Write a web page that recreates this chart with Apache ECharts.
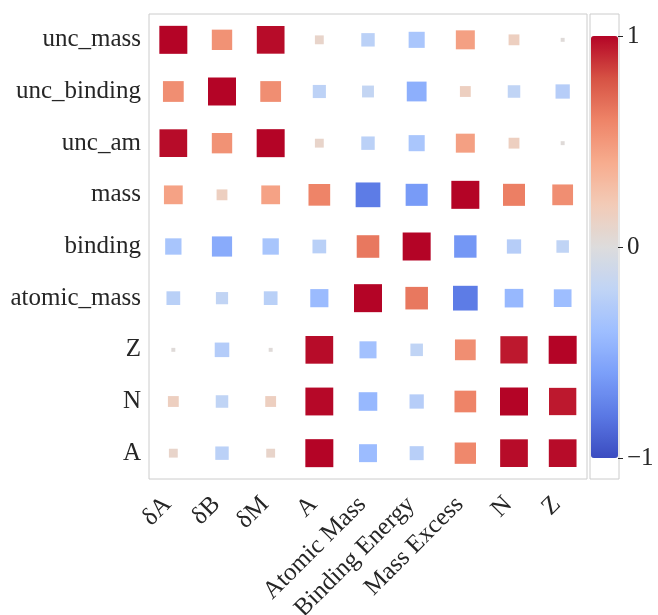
<!DOCTYPE html>
<html><head><meta charset="utf-8">
<script src="https://cdn.jsdelivr.net/npm/echarts@6/dist/echarts.min.js"></script>
<style>html,body{margin:0;padding:0;background:#fff}#c{width:658px;height:615px}</style>
</head><body><div id="c"></div>
<script>
const columns = ['\u03b4A', '\u03b4B', '\u03b4M', 'A', 'Atomic Mass', 'Binding Energy', 'Mass Excess', 'N', 'Z'];
const rows = ['unc_mass', 'unc_binding', 'unc_am', 'mass', 'binding', 'atomic_mass', 'Z', 'N', 'A'];
const r_unc_mass    = [1.00, 0.53, 0.98, 0.10, -0.23, -0.33, 0.46, 0.15, 0.02];
const r_unc_binding = [0.55, 1.00, 0.55, -0.22, -0.18, -0.50, 0.15, -0.20, -0.26];
const r_unc_am      = [0.98, 0.53, 1.00, 0.10, -0.23, -0.33, 0.46, 0.15, 0.02];
const r_mass        = [0.45, 0.15, 0.45, 0.60, -0.78, -0.62, 1.00, 0.62, 0.55];
const r_binding     = [-0.34, -0.52, -0.34, -0.24, 0.65, 1.00, -0.64, -0.26, -0.20];
const r_atomic_mass = [-0.24, -0.19, -0.24, -0.42, 1.00, 0.65, -0.78, -0.44, -0.40];
const r_Z           = [0.02, -0.27, 0.02, 0.98, -0.37, -0.20, 0.55, 0.95, 1.00];
const r_N           = [0.15, -0.20, 0.15, 0.99, -0.44, -0.26, 0.60, 1.00, 0.95];
const r_A           = [0.10, -0.23, 0.10, 1.00, -0.41, -0.25, 0.58, 0.98, 0.98];
const matrix = [r_unc_mass, r_unc_binding, r_unc_am, r_mass, r_binding, r_atomic_mass, r_Z, r_N, r_A];
const colorbarTicks = [-1, 0, 1];

const coolwarm = ['#3b4cc0','#5a78e4','#7b9ff9','#9ebeff','#c0d4f5','#dddcdc','#f2cbb7','#f7ac8e','#ee8468','#d65244','#b40426'];

const data = [];
matrix.forEach((row, ri) => row.forEach((v, ci) => data.push([ci, ri, v])));

const FONT = 'Liberation Serif';
const chart = echarts.init(document.getElementById('c'));
chart.setOption({
  animation: false,
  grid: [
    {left: 149, top: 14, width: 438, height: 465, show: true, borderColor: '#cccccc', borderWidth: 1, backgroundColor: 'transparent', outerBoundsMode: 'none', containLabel: false},
    {left: 590, top: 14, width: 29, height: 465, show: true, borderColor: '#cccccc', borderWidth: 1, backgroundColor: 'transparent', outerBoundsMode: 'none', containLabel: false},
    {left: 591, top: 36, width: 27, height: 422, show: false, outerBoundsMode: 'none', containLabel: false}
  ],
  xAxis: [
    {gridIndex: 0, type: 'category', data: columns, boundaryGap: true,
     axisLine: {show: false}, axisTick: {show: false}, splitLine: {show: false},
     axisLabel: {rotate: 45, margin: 16, padding: [0, 8, 0, 0], fontFamily: FONT, fontSize: 25, color: '#262626', interval: 0}},
    {gridIndex: 1, type: 'value', show: false},
    {gridIndex: 2, type: 'value', show: false, min: 0, max: 1}
  ],
  yAxis: [
    {gridIndex: 0, type: 'category', data: rows, inverse: true, boundaryGap: true,
     axisLine: {show: false}, axisTick: {show: false}, splitLine: {show: false},
     axisLabel: {margin: 8, fontFamily: FONT, fontSize: 25, color: '#262626', interval: 0}},
    {gridIndex: 1, type: 'value', show: false},
    {gridIndex: 2, type: 'value', min: -1, max: 1, interval: 1, position: 'right', z: 10,
     axisLine: {show: false, onZero: false}, splitLine: {show: false},
     axisTick: {show: true, inside: false, length: 5, lineStyle: {color: '#262626', width: 1}},
     axisLabel: {margin: 9, fontFamily: FONT, fontSize: 25, color: '#262626',
       formatter: v => colorbarTicks.includes(v) ? (v < 0 ? '\u2212' + Math.abs(v) : String(v)) : ''}}
  ],
  visualMap: {
    type: 'continuous', min: -1, max: 1, seriesIndex: 0, dimension: 2,
    inRange: {color: coolwarm},
    left: 591, top: 36, itemWidth: 27, itemHeight: 422,
    calculable: false, text: null, showLabel: false, padding: 0,
    orient: 'vertical', z: 1
  },
  series: [{
    type: 'scatter', xAxisIndex: 0, yAxisIndex: 0, symbol: 'rect',
    data: data,
    symbolSize: d => { const s = Math.sqrt(Math.abs(d[2])) * 28; return [s, s]; },
    itemStyle: {opacity: 1}
  }]
});
</script></body></html>
